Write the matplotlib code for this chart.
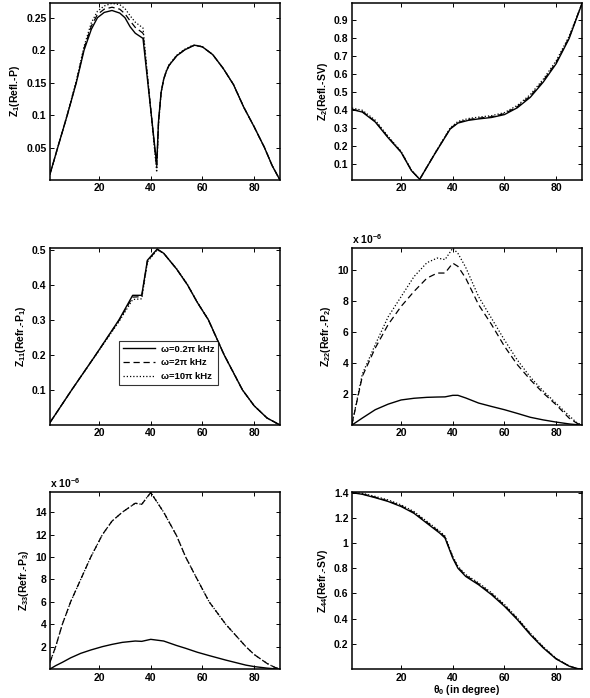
import matplotlib
matplotlib.use("Agg")
import matplotlib.pyplot as plt

plt.rcParams["font.family"] = "Liberation Sans"
plt.rcParams["font.weight"] = "bold"
plt.rcParams["mathtext.fontset"] = "custom"
plt.rcParams["mathtext.rm"] = "Liberation Sans:bold"
plt.rcParams["mathtext.it"] = "Liberation Sans:bold"
plt.rcParams["mathtext.bf"] = "Liberation Sans:bold"
plt.rcParams["mathtext.default"] = "rm"

labels = ["ω=0.2π kHz", "ω=2π kHz", "ω=10π kHz"]

# Z1 (Refl.-P)
x1 = [1, 4, 7.7, 11.2, 14.2, 17, 19.4, 22, 25, 28, 30, 32, 34, 37, 42.3, 43, 44, 45, 46,
      47, 50, 53, 56, 57, 60, 64, 68, 72, 76, 80, 84, 87, 90]
z1_a = [0.009, 0.05, 0.1, 0.15, 0.2, 0.232, 0.25, 0.258, 0.261, 0.257, 0.25, 0.236, 0.226,
        0.218, 0.024, 0.09, 0.135, 0.155, 0.167, 0.176, 0.191, 0.2, 0.206, 0.2075, 0.205,
        0.193, 0.172, 0.147, 0.112, 0.082, 0.05, 0.022, 0.0]
z1_b = [0.009, 0.05, 0.1, 0.151, 0.203, 0.237, 0.255, 0.263, 0.266, 0.263, 0.256, 0.245,
        0.235, 0.226, 0.019, 0.088, 0.134, 0.155, 0.167, 0.176, 0.191, 0.2, 0.206, 0.2075,
        0.205, 0.193, 0.172, 0.147, 0.112, 0.082, 0.05, 0.022, 0.0]
z1_c = [0.009, 0.05, 0.101, 0.153, 0.206, 0.242, 0.26, 0.268, 0.272, 0.27, 0.264, 0.253,
        0.243, 0.234, 0.012, 0.085, 0.133, 0.155, 0.168, 0.177, 0.192, 0.201, 0.207, 0.208,
        0.205, 0.193, 0.172, 0.147, 0.112, 0.082, 0.05, 0.022, 0.0]

# Z2 (Refl.-SV)
x2 = [1, 5, 10, 15, 20, 24, 27.2, 33, 39, 42, 46, 50, 55, 60, 65, 70, 75, 80, 85, 90]
z2_a = [0.402, 0.388, 0.333, 0.245, 0.165, 0.063, 0.015, 0.155, 0.294, 0.327, 0.342, 0.35,
        0.358, 0.374, 0.412, 0.47, 0.554, 0.656, 0.795, 0.99]
z2_b = [0.404, 0.391, 0.336, 0.248, 0.167, 0.064, 0.015, 0.156, 0.296, 0.33, 0.346, 0.354,
        0.362, 0.379, 0.418, 0.477, 0.561, 0.663, 0.8, 0.99]
z2_c = [0.41, 0.398, 0.343, 0.253, 0.17, 0.066, 0.015, 0.158, 0.3, 0.336, 0.352, 0.36,
        0.368, 0.385, 0.425, 0.485, 0.57, 0.672, 0.808, 0.99]

# Z11 (Refr.-P1)
x11 = [1, 9.4, 18.7, 27.7, 33, 36.5, 38.7, 42.5, 45, 50, 54.2, 58, 62.3, 68.4, 75.5, 80,
       85, 90]
z11_a = [0.007, 0.1, 0.2, 0.3, 0.37, 0.37, 0.47, 0.502, 0.49, 0.445, 0.4, 0.35, 0.3, 0.2,
         0.1, 0.055, 0.02, 0.0]
z11_b = [0.007, 0.1, 0.2, 0.298, 0.365, 0.366, 0.468, 0.501, 0.49, 0.445, 0.4, 0.35, 0.3,
         0.2, 0.1, 0.055, 0.02, 0.0]
z11_c = [0.007, 0.1, 0.199, 0.295, 0.358, 0.36, 0.465, 0.5, 0.49, 0.446, 0.401, 0.351,
         0.301, 0.2, 0.1, 0.055, 0.02, 0.0]

# Z22 (Refr.-P2), x 1e-6
x22 = [1, 5, 10, 15, 20, 25, 30, 34, 37, 40, 42, 45, 50, 55, 60, 65, 70, 75, 80, 85, 88, 90]
z22_a = [0.0, 0.45, 0.99, 1.35, 1.62, 1.73, 1.79, 1.81, 1.82, 1.92, 1.92, 1.75, 1.42, 1.2,
         0.99, 0.75, 0.5, 0.33, 0.19, 0.07, 0.02, 0.0]
z22_b = [0.05, 3.15, 4.98, 6.5, 7.67, 8.64, 9.5, 9.83, 9.83, 10.47, 10.26, 9.5, 7.78, 6.5,
         5.09, 3.9, 2.93, 2.07, 1.31, 0.45, 0.12, 0.0]
z22_c = [0.05, 3.3, 5.2, 7.0, 8.3, 9.6, 10.5, 10.8, 10.7, 11.44, 11.1, 10.2, 8.3, 6.9, 5.5,
         4.2, 3.1, 2.2, 1.4, 0.6, 0.15, 0.0]

# Z33 (Refr.-P3), x 1e-6
x33 = [1, 3.2, 5.8, 9, 12.9, 16.8, 21.3, 25, 29, 34, 36.5, 40, 45, 50, 53.5, 58, 62.6, 69,
       76.8, 80, 85, 88, 90]
z33_a = [0.0, 0.3, 0.6, 1.0, 1.4, 1.7, 2.0, 2.2, 2.38, 2.5, 2.47, 2.65, 2.5, 2.1, 1.85, 1.5,
         1.2, 0.8, 0.35, 0.22, 0.08, 0.02, 0.0]
z33_b = [0.6, 2.0, 4.0, 6.0, 8.0, 10.0, 12.0, 13.2, 14.0, 14.8, 14.7, 15.75, 14.0, 11.9,
         10.0, 8.0, 6.0, 4.0, 2.0, 1.3, 0.5, 0.15, 0.0]
z33_c = [0.6, 2.0, 4.0, 6.0, 8.0, 10.0, 12.0, 13.2, 14.0, 14.8, 14.7, 15.78, 14.0, 11.9,
         10.0, 8.0, 6.0, 4.0, 2.0, 1.3, 0.5, 0.15, 0.0]

# Z44 (Refr.-SV)
x44 = [1, 5, 10, 15, 20, 25, 30, 35, 37, 38.5, 40, 42, 45, 50, 55, 60, 65, 70, 75, 80, 85,
       88, 90]
z44_a = [1.4, 1.387, 1.36, 1.33, 1.29, 1.236, 1.157, 1.078, 1.04, 0.96, 0.88, 0.8, 0.735,
         0.669, 0.59, 0.498, 0.392, 0.273, 0.168, 0.08, 0.023, 0.004, 0.0]
z44_b = [1.4, 1.39, 1.364, 1.335, 1.295, 1.242, 1.164, 1.085, 1.047, 0.966, 0.887, 0.807,
         0.742, 0.676, 0.597, 0.505, 0.398, 0.279, 0.172, 0.082, 0.024, 0.004, 0.0]
z44_c = [1.405, 1.395, 1.37, 1.342, 1.303, 1.25, 1.172, 1.093, 1.055, 0.973, 0.895, 0.815,
         0.75, 0.684, 0.605, 0.513, 0.405, 0.285, 0.177, 0.085, 0.025, 0.004, 0.0]

panels = [
    (x1, (z1_a, z1_b, z1_c), r"Z$_{1}$(Refl.-P)", (0, 0.2725),
     [0.05, 0.1, 0.15, 0.2, 0.25], ["0.05", "0.1", "0.15", "0.2", "0.25"], False),
    (x2, (z2_a, z2_b, z2_c), r"Z$_{2}$(Refl.-SV)", (0.011, 0.993),
     [0.1, 0.2, 0.3, 0.4, 0.5, 0.6, 0.7, 0.8, 0.9],
     ["0.1", "0.2", "0.3", "0.4", "0.5", "0.6", "0.7", "0.8", "0.9"], False),
    (x11, (z11_a, z11_b, z11_c), r"Z$_{11}$(Refr.-P$_{1}$)", (0, 0.505),
     [0.1, 0.2, 0.3, 0.4, 0.5], ["0.1", "0.2", "0.3", "0.4", "0.5"], False),
    (x22, (z22_a, z22_b, z22_c), r"Z$_{22}$(Refr.-P$_{2}$)", (0, 11.45),
     [2, 4, 6, 8, 10], ["2", "4", "6", "8", "10"], True),
    (x33, (z33_a, z33_b, z33_c), r"Z$_{33}$(Refr.-P$_{3}$)", (0, 15.8),
     [2, 4, 6, 8, 10, 12, 14], ["2", "4", "6", "8", "10", "12", "14"], True),
    (x44, (z44_a, z44_b, z44_c), r"Z$_{44}$(Refr.-SV)", (0, 1.405),
     [0.2, 0.4, 0.6, 0.8, 1.0, 1.2, 1.4], ["0.2", "0.4", "0.6", "0.8", "1", "1.2", "1.4"],
     False),
]

styles = [dict(ls="-", lw=1.0), dict(ls=(0, (5, 3)), lw=0.9), dict(ls=(0, (1, 1.6)), lw=0.9)]

fig = plt.figure(figsize=(5.9, 6.98), dpi=100)
lefts = [0.0847, 0.5966]
bottoms = [0.7421, 0.3911, 0.0415]

for i, (x, series, ylab, ylim, yt, ytl, sci) in enumerate(panels):
    ax = fig.add_axes([lefts[i % 2], bottoms[i // 2], 0.3898, 0.2536])
    for y, st, lab in zip(series, styles, labels):
        ax.plot(x, y, color="black", label=lab, **st)
    ax.set_xlim(1, 90)
    ax.set_ylim(*ylim)
    ax.set_xticks([20, 40, 60, 80])
    ax.set_xticklabels(["20", "40", "60", "80"])
    ax.set_yticks(yt)
    ax.set_yticklabels(ytl)
    ax.tick_params(direction="in", length=3, width=0.7, top=True, right=True,
                   labelsize=7.5, pad=2.5)
    for s in ax.spines.values():
        s.set_linewidth(1.1)
    ax.set_ylabel(ylab, fontsize=7.5, fontweight="bold", labelpad=3)
    if sci:
        ax.text(0.0, 1.012, r"x 10$^{-6}$", transform=ax.transAxes, fontsize=7.5,
                fontweight="bold", va="bottom", ha="left")
    if i == 2:
        leg = ax.legend(loc="upper left", bbox_to_anchor=(0.3, 0.475), fontsize=6.8,
                        frameon=True, fancybox=False, handlelength=3.4,
                        borderpad=0.4, labelspacing=0.5, handletextpad=0.6,
                        borderaxespad=0)
        leg.get_frame().set_edgecolor("black")
        leg.get_frame().set_linewidth(0.8)
    if i == 5:
        ax.set_xlabel(r"θ$_{0}$ (in degree)", fontsize=7.5, fontweight="bold", labelpad=0)

fig.savefig("out.png", dpi=100)
